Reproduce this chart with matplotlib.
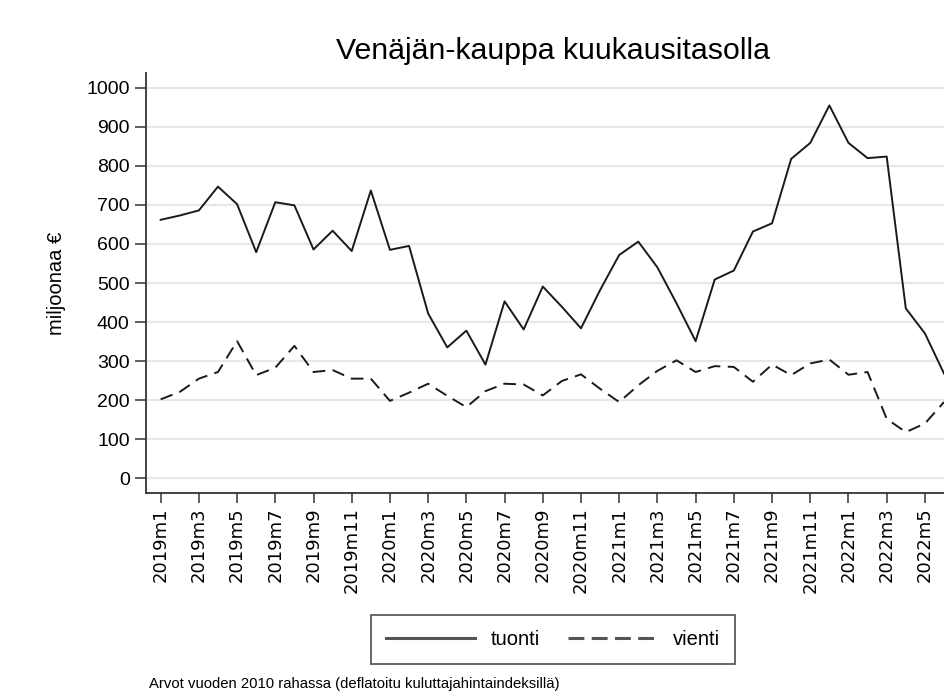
import matplotlib
matplotlib.use("Agg")
import matplotlib.pyplot as plt
from matplotlib.lines import Line2D
import numpy as np

months = [f"{y}m{m}" for y in (2019, 2020, 2021, 2022) for m in range(1, 13)][:42]

tuonti = [662, 673, 686, 747, 702, 579, 707, 699, 586, 634, 582, 737,
          585, 595, 422, 335, 378, 291, 453, 381, 491, 439, 384, 482,
          572, 606, 540, 448, 351, 509, 532, 632, 653, 818, 859, 955,
          859, 820, 824, 435, 371, 268]
vienti = [202, 221, 255, 272, 351, 264, 283, 339, 272, 277, 255, 255,
          198, 219, 242, 211, 182, 223, 242, 240, 212, 249, 266, 229,
          195, 238, 275, 302, 272, 287, 285, 247, 291, 264, 294, 304,
          265, 272, 152, 118, 140, 195]
yticks = list(range(0, 1001, 100))

plt.rcParams['font.family'] = ['Liberation Sans', 'DejaVu Sans']

fig = plt.figure(figsize=(9.44, 6.93), dpi=100)
ax = fig.add_axes([0.1543, 0.2886, 0.8616, 0.606])

x = np.arange(len(months))
ax.plot(x, tuonti, color='#1a1a1a', lw=1.4, label='tuonti')
ax.plot(x, vienti, color='#1a1a1a', lw=1.4, dashes=(6.5, 3.8), label='vienti')

ax.set_xlim(-0.785, len(months) - 1 + 0.785)
ax.set_ylim(-38, 1038)
ax.set_yticks(yticks)
ax.set_yticklabels([str(v) for v in yticks], fontsize=14)
ax.set_xticks(x[::2])
ax.set_xticklabels(months[::2], rotation=90, fontsize=13, family=['DejaVu Sans'])
ax.tick_params(axis='y', length=8, width=1.1, color='#333333', direction='out', pad=3.5)
ax.tick_params(axis='x', length=7.5, width=1.1, color='#333333', direction='out', pad=3)
ax.grid(axis='y', color='#e8e8e8', lw=1.6)
ax.set_axisbelow(True)
for s in ('top', 'right'):
    ax.spines[s].set_visible(False)
for s in ('left', 'bottom'):
    ax.spines[s].set_color('#333333')
    ax.spines[s].set_linewidth(1.3)

fig.text(57/944, 1 - 283/693, 'miljoonaa €', rotation=90, ha='center', va='center', fontsize=14.5)
fig.text(553/944, 1 - 51/693, 'Venäjän-kauppa kuukausitasolla', ha='center', va='center', fontsize=21.8)

handles = [Line2D([], [], color='#555555', lw=2.2),
           Line2D([], [], color='#555555', lw=2.2, dashes=(5.2, 2.4))]
leg = fig.legend(handles, ['tuonti', 'vienti'], loc='center', bbox_to_anchor=(553/944, 1 - 639.5/693),
                 ncol=2, fontsize=14.5, frameon=True, fancybox=False, handlelength=4.4,
                 columnspacing=1.4, borderpad=0.75, handletextpad=0.8, borderaxespad=0)
leg.get_frame().set_edgecolor('#333333')
leg.get_frame().set_linewidth(1.3)

fig.text(149/944, 1 - 684/693, 'Arvot vuoden 2010 rahassa (deflatoitu kuluttajahintaindeksillä)',
         ha='left', va='center', fontsize=10.7)

fig.savefig('out.png', dpi=100)
